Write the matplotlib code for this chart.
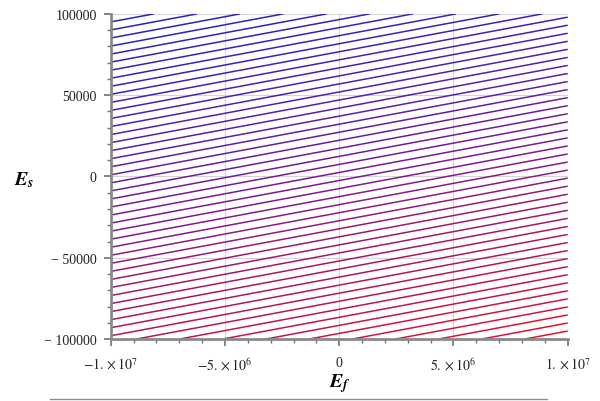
import matplotlib

matplotlib.use("Agg")
import matplotlib.pyplot as plt  # noqa: E402
import numpy as np  # noqa: E402
from matplotlib.colors import LinearSegmentedColormap  # noqa: E402
from matplotlib.lines import Line2D  # noqa: E402

# data
ef_range = [-1e7, 1e7]
es_range = [-1e5, 1e5]
slope = 0.00262          # dE_s / dE_f along a contour
n_contours = 50
x_ticks = [-1e7, -5e6, 0, 5e6, 1e7]
x_labels = [r"$-1.\times 10^{7}$", r"$-5.\times 10^{6}$", "0",
            r"$5.\times 10^{6}$", r"$1.\times 10^{7}$"]
y_ticks = [-100000, -50000, 0, 50000, 100000]
y_labels = ["\u2212 100000", "\u2212 50000", "0", "50000", "100000"]

plt.rcParams["font.family"] = ["Liberation Serif", "DejaVu Serif"]
plt.rcParams["mathtext.fontset"] = "stix"

ef = np.linspace(ef_range[0], ef_range[1], 60)
es = np.linspace(es_range[0], es_range[1], 60)
EF, ES = np.meshgrid(ef, es)
Z = ES - slope * EF
zmin, zmax = Z.min(), Z.max()
levels = np.linspace(zmin, zmax, n_contours + 2)[1:-1]

cmap = LinearSegmentedColormap.from_list("maple", ["#e0142e", "#7a1a96", "#2222c8"])

fig = plt.figure(figsize=(6, 4.02), dpi=100)
ax = fig.add_axes([0.1845, 0.154, 0.7617, 0.809])
ax.contour(EF, ES, Z, levels=levels, cmap=cmap, linewidths=1.1)

ax.set_xlim(ef_range)
ax.set_ylim(es_range)
ax.set_xticks(x_ticks)
ax.set_xticklabels(x_labels, fontsize=10)
ax.set_yticks(y_ticks)
ax.set_yticklabels(y_labels, fontsize=10)
ax.set_xticks(np.arange(-1e7, 1e7 + 1, 1e6), minor=True)
ax.set_yticks(np.arange(-100000, 100001, 10000), minor=True)
ax.tick_params(which="major", direction="out", length=5, width=1.2,
               color="#707070", pad=5, labelcolor="#222222")
ax.tick_params(which="minor", direction="out", length=3, width=1.0,
               color="#707070")
ax.tick_params(axis="x", pad=7)

ax.grid(True, which="major", color="#d4d4d4", linewidth=0.8)
ax.set_axisbelow(True)
for side in ["top", "right"]:
    ax.spines[side].set_visible(False)
for side in ["left", "bottom"]:
    ax.spines[side].set_color("#8a8a8a")
    ax.spines[side].set_linewidth(2)

fig.text(0.567, 0.045, r"$\mathbfit{E}_{\mathbfit{f}}$", fontsize=14,
         ha="center", va="center")
fig.text(0.04, 0.553, r"$\mathbfit{E}_{\mathbfit{s}}$", fontsize=14,
         ha="center", va="center")

fig.add_artist(Line2D([0.083, 0.911], [0.004, 0.004], color="#909090",
                      linewidth=1.0, transform=fig.transFigure))

fig.savefig("out.png", dpi=100)
